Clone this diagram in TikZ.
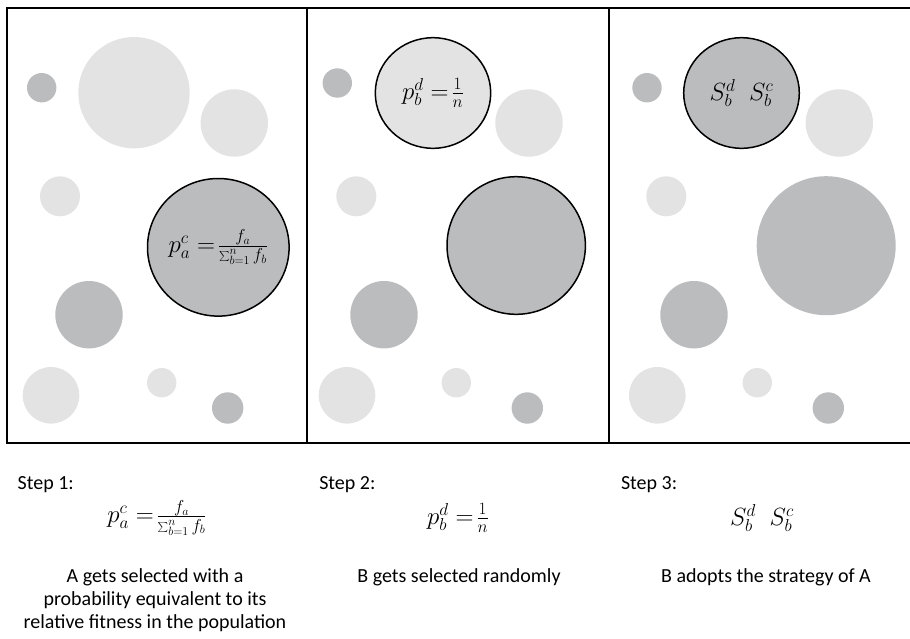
\documentclass[tikz,border=0pt]{standalone}
\usepackage{fontspec}
\setmainfont{Carlito}
\usetikzlibrary{shapes.geometric}

\definecolor{lightdot}{RGB}{227,227,227}
\definecolor{darkdot}{RGB}{187,188,190}

\begin{document}
\begin{tikzpicture}[x=1pt, y=-1pt, line width=2pt,
    every node/.style={inner sep=0pt, font=\fontsize{20}{22.7}\selectfont},
    formula/.style={font=\fontsize{23}{26}\selectfont},
    pick/.style={draw, ellipse, line width=1.5pt, formula}]
    \useasboundingbox (0,0) rectangle (910,638);

    % panel 1
    \fill[darkdot]  (41.7,87.7)  circle (14.7);
    \fill[lightdot] (134,92.7)   circle (55.7);
    \fill[lightdot] (234.3,123)  circle (33.7);
    \fill[lightdot] (60,196.3)   circle (20);
    \fill[darkdot]  (89,314.7)   circle (33.7);
    \fill[lightdot] (51,395.3)   circle (28.3);
    \fill[lightdot] (161.7,382.7) circle (14.7);
    \fill[darkdot]  (227.7,408)  circle (15.7);
    \node[pick, fill=darkdot, minimum width=141.6pt, minimum height=137.6pt]
        (selA) at (218.3,247.3) {\(p_a^c =\!\frac{f_a}{\sum_{b=1}^{n} f_b}\)};

    % panel 2
    \fill[darkdot]  (337.3,83)   circle (14.7);
    \fill[lightdot] (529,123)    circle (33.7);
    \fill[lightdot] (356.3,196.3) circle (20);
    \fill[darkdot]  (384,314.7)  circle (33.7);
    \fill[lightdot] (347,395.3)  circle (28.3);
    \fill[lightdot] (456.3,382.7) circle (14.7);
    \fill[darkdot]  (527.3,408)  circle (15.7);
    \node[pick, fill=lightdot, minimum width=115.4pt, minimum height=110.6pt]
        (selB) at (433,93) {\(p_b^d =\!\frac{1}{n}\)};
    \node[pick, fill=darkdot, minimum width=138.4pt, minimum height=137.6pt]
        (oldA) at (516.2,245.5) {};

    % panel 3
    \fill[darkdot]  (647,87.7)   circle (14.7);
    \fill[lightdot] (839.3,123)  circle (33.7);
    \fill[lightdot] (666.3,196.3) circle (20);
    \fill[darkdot]  (826.2,245.7) circle (69.5);
    \fill[darkdot]  (694,314.7)  circle (33.7);
    \fill[lightdot] (657.3,395.3) circle (28.3);
    \fill[lightdot] (757.3,382.7) circle (14.7);
    \fill[darkdot]  (828.3,408)  circle (15.7);
    \node[pick, fill=darkdot, minimum width=115.6pt, minimum height=110.6pt]
        (selC) at (741.5,93) {\(S_b^d\;\; S_b^c\)};

    % frame
    \draw (910,8) -- (7,8) -- (7,443) -- (910,443);
    \draw (307,8) -- (307,443);
    \draw (609,8) -- (609,443);

    % captions
    \node[anchor=base west] (step1) at (16.7,489.3) {Step 1:};
    \node[anchor=base west] (step2) at (318.3,489.3) {Step 2:};
    \node[anchor=base west] (step3) at (620,489.3) {Step 3:};

    \node[formula] (eq1) at (157,518) {\(p_a^c =\!\frac{f_a}{\sum_{b=1}^{n} f_b}\)};
    \node[formula] (eq2) at (458,518) {\(p_b^d =\!\frac{1}{n}\)};
    \node[formula] (eq3) at (762,518) {\(S_b^d\;\; S_b^c\)};

    \node[anchor=north, align=center] (txt1) at (155,568)
        {A gets selected with a\\probability equivalent to its\\relative fitness in the population};
    \node[anchor=north] (txt2) at (459,568) {B gets selected randomly};
    \node[anchor=north] (txt3) at (766,568) {B adopts the strategy of A};
\end{tikzpicture}
\end{document}
